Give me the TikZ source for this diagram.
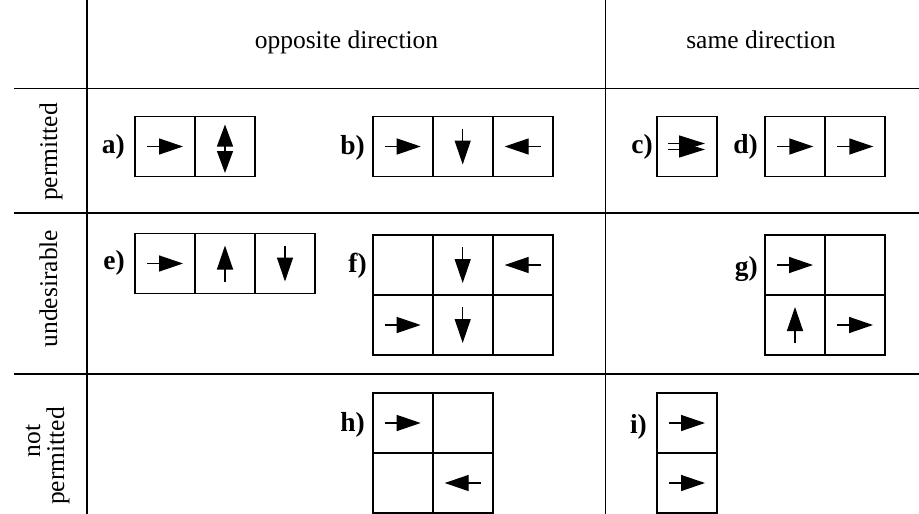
\documentclass[tikz,border=0pt]{standalone}
\usepackage{fontspec}
\setmainfont{Liberation Serif}
\usetikzlibrary{arrows.meta,calc}
\newcommand\ArR[1]{\draw[arr] ($(#1)+(-18,0)$) -- ($(#1)+(18,0)$);}
\newcommand\ArL[1]{\draw[arr] ($(#1)+(18,0)$) -- ($(#1)+(-18,0)$);}
\newcommand\ArU[1]{\draw[arr] ($(#1)+(0,18)$) -- ($(#1)+(0,-18)$);}
\newcommand\ArD[1]{\draw[arr] ($(#1)+(0,-18)$) -- ($(#1)+(0,18)$);}
\begin{document}
\begin{tikzpicture}[x=1pt,y=-1pt,
  cell/.style={draw, line width=1.8pt, minimum width=60pt, minimum height=60pt, inner sep=0pt, outer sep=0pt},
  gridline/.style={line width=1.8pt},
  arr/.style={line width=1.4pt, -{Triangle[length=24pt,width=16pt]}},
  lab/.style={font=\fontsize{27.5}{32}\selectfont\bfseries, anchor=east, inner sep=0pt},
  head/.style={font=\fontsize{25.5}{30}\selectfont, anchor=base, inner sep=0pt},
  rowlab/.style={font=\fontsize{25.5}{30}\selectfont, anchor=base, inner sep=0pt, rotate=90}]
\useasboundingbox (0,0) rectangle (919,514);
% grid
\coordinate (v1t) at (87.3,0);   \coordinate (v1b) at (87.3,514);
\coordinate (v2t) at (605.5,0);  \coordinate (v2b) at (605.5,514);
\coordinate (h1l) at (14,88.5);  \coordinate (h1r) at (919,88.5);
\coordinate (h2l) at (14,212.7); \coordinate (h2r) at (919,212.7);
\coordinate (h3l) at (14,373.7); \coordinate (h3r) at (919,373.7);
\draw[gridline] (v1t) -- (v1b);
\draw[gridline] (v2t) -- (v2b);
\draw[gridline] (h1l) -- (h1r);
\draw[gridline] (h2l) -- (h2r);
\draw[gridline] (h3l) -- (h3r);
% headers
\node[head] (hopp) at (346.5,48) {opposite direction};
\node[head] (hsame) at (761,48) {same direction};
\node[rowlab] (rperm) at (57,152) {permitted};
\node[rowlab] (rund) at (57,288.5) {undesirable};
\node[rowlab] (rnot) at (40,441) {not};
\node[rowlab] (rnot2) at (64,456) {permitted};
% a
\node[lab] (la) at (125,147) {a)};
\node[cell] (a1) at (165,146.5) {};
\node[cell] (a2) at (225,146.5) {};
\ArR{a1}
\draw[arr,-{Triangle[length=22pt,width=16pt]}] ($(a2)+(0,3.5)$) -- ($(a2)+(0,-22)$);
\draw[arr,-{Triangle[length=22pt,width=16pt]}] ($(a2)+(0,1.5)$) -- ($(a2)+(0,26.5)$);
% b
\node[lab] (lb) at (365,148) {b)};
\node[cell] (b1) at (402.7,146.5) {};
\node[cell] (b2) at (462.7,146.5) {};
\node[cell] (b3) at (522.7,146.5) {};
\ArR{b1} \ArD{b2} \ArL{b3}
% c
\node[lab] (lc) at (653,147) {c)};
\node[cell] (c1) at (687,146.5) {};
\draw[arr,-{Triangle[length=26pt,width=16pt]}] ($(c1)+(-19,-3)$) -- ($(c1)+(18,-3)$);
\draw[arr,-{Triangle[length=26pt,width=16pt]}] ($(c1)+(-19,3)$) -- ($(c1)+(18,3)$);
% d
\node[lab] (ld) at (758,147) {d)};
\node[cell] (d1) at (795.3,146.5) {};
\node[cell] (d2) at (855.3,146.5) {};
\ArR{d1} \ArR{d2}
% e
\node[lab] (le) at (125,263) {e)};
\node[cell] (e1) at (165,263.5) {};
\node[cell] (e2) at (225,263.5) {};
\node[cell] (e3) at (285,263.5) {};
\ArR{e1} \ArU{e2} \ArD{e3}
% f
\node[lab] (lf) at (367,266) {f)};
\node[cell] (f1) at (402.7,265) {};
\node[cell] (f2) at (462.7,265) {};
\node[cell] (f3) at (522.7,265) {};
\node[cell] (f4) at (402.7,325) {};
\node[cell] (f5) at (462.7,325) {};
\node[cell] (f6) at (522.7,325) {};
\ArD{f2} \ArL{f3} \ArR{f4} \ArD{f5}
% g
\node[lab] (lg) at (758,269) {g)};
\node[cell] (g1) at (795,265) {};
\node[cell] (g2) at (855,265) {};
\node[cell] (g3) at (795,325) {};
\node[cell] (g4) at (855,325) {};
\ArR{g1} \ArU{g3} \ArR{g4}
% h
\node[lab] (lh) at (365,425) {h)};
\node[cell] (h1) at (402.7,423) {};
\node[cell] (h2) at (462.7,423) {};
\node[cell] (h3) at (402.7,483) {};
\node[cell] (h4) at (462.7,483) {};
\ArR{h1} \ArL{h4}
% i
\node[lab] (li) at (647,427) {i)};
\node[cell] (i1) at (687,423) {};
\node[cell] (i2) at (687,483) {};
\ArR{i1} \ArR{i2}
\end{tikzpicture}
\end{document}
